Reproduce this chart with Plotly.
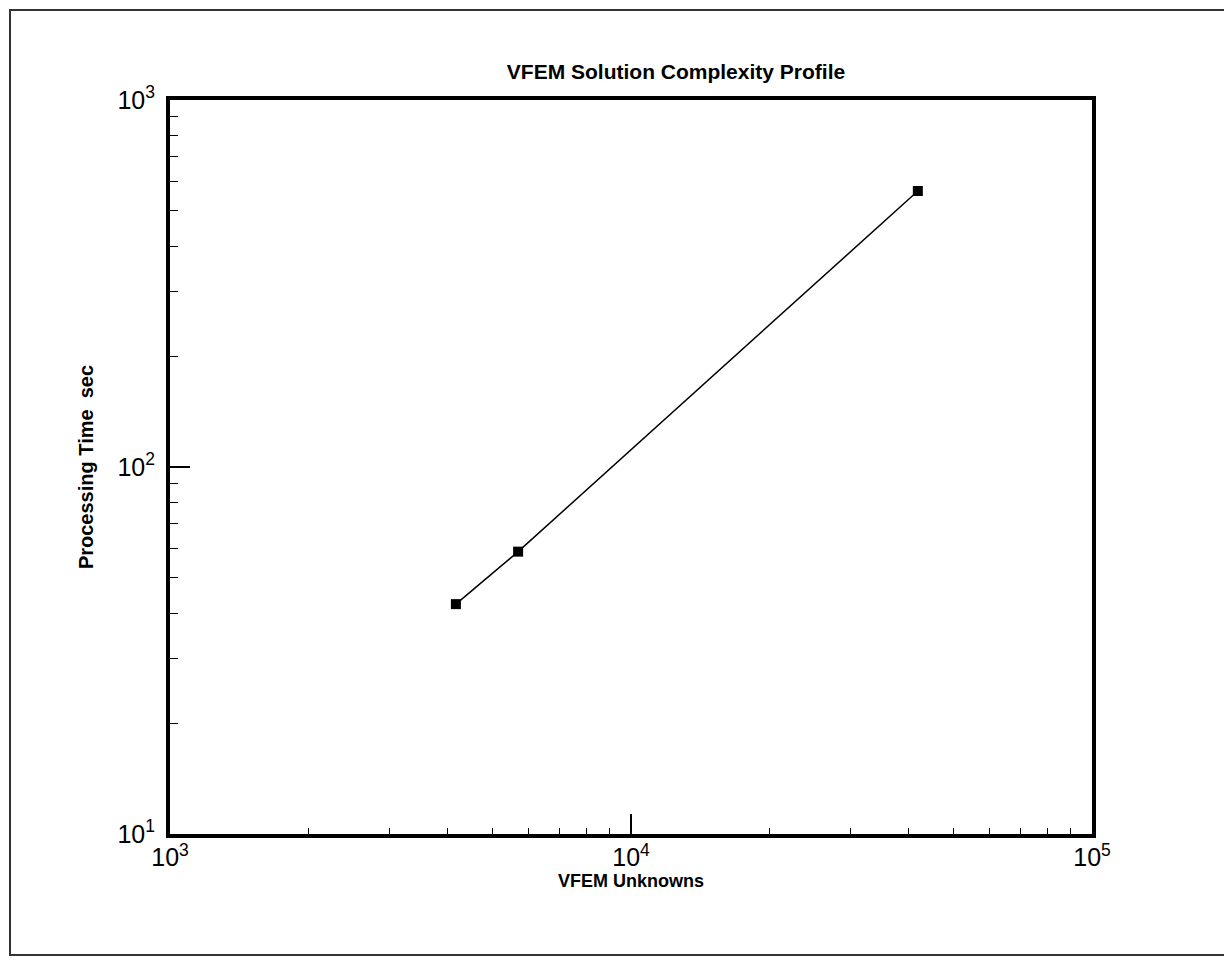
import plotly.graph_objects as go

unknowns = [4170, 5690, 41900]
proc_time = [42.3, 58.8, 565]

title_text = "VFEM Solution Complexity Profile"
x_title = "VFEM Unknowns"
y_title = "Processing Time  sec"

y_tickvals = [10, 100, 1000]
y_ticktext = ["10<sup>1</sup>", "10<sup>2</sup>", "10<sup>3</sup>"]
x_tickvals = [1000, 10000, 100000]
x_ticktext = ["10<sup>3</sup>", "10<sup>4</sup>", "10<sup>5</sup>"]
y_minor = [20, 30, 40, 50, 60, 70, 80, 90, 200, 300, 400, 500, 600, 700, 800, 900]
x_minor = [2000, 3000, 4000, 5000, 6000, 7000, 8000, 9000,
           20000, 30000, 40000, 50000, 60000, 70000, 80000, 90000]

FONT = "Liberation Sans, Arial"

# page offset of the figure (browser body margin)
OFF = 8
PL, PR, PT, PB = 170, 1092, 100, 834  # plot area in page pixels

fig = go.Figure()
fig.add_trace(go.Scatter(
    x=unknowns, y=proc_time, mode="lines+markers",
    line=dict(color="black", width=1.5),
    marker=dict(symbol="square", size=10, color="black"),
    showlegend=False,
))

axis_common = dict(
    type="log", showgrid=False, zeroline=False,
    showline=True, linecolor="black", linewidth=4, mirror=True,
    ticks="inside", ticklen=20, tickwidth=2, tickcolor="black",
    tickfont=dict(family=FONT, size=25, color="black"),
)

fig.update_xaxes(range=[3, 5], tickmode="array", tickvals=x_tickvals, ticktext=x_ticktext,
                 minor=dict(ticks="inside", ticklen=6, tickwidth=1, tickcolor="black",
                            tickmode="array", tickvals=x_minor, showgrid=False),
                 title=dict(text="<b>" + x_title + "</b>", standoff=0,
                            font=dict(family=FONT, size=18, color="black")),
                 ticklabelstandoff=-2, **axis_common)
fig.update_yaxes(range=[1, 3], tickmode="array", tickvals=y_tickvals, ticktext=y_ticktext,
                 minor=dict(ticks="inside", ticklen=8, tickwidth=1, tickcolor="black",
                            tickmode="array", tickvals=y_minor, showgrid=False),
                 title=dict(text="<b>" + y_title + "</b>", standoff=19,
                            font=dict(family=FONT, size=20, color="black")),
                 ticklabelstandoff=6, **axis_common)

W, H = 1232 - OFF, 960 - OFF
fig.update_layout(
    width=W, height=H,
    margin=dict(l=PL - OFF, r=1232 - PR, t=PT - OFF, b=960 - PB, autoexpand=False),
    paper_bgcolor="white", plot_bgcolor="white",
    title=dict(text="<b>" + title_text + "</b>", x=(676 - OFF) / W, xanchor="center",
               y=1 - (72 - OFF) / H, yanchor="middle",
               font=dict(family=FONT, size=21, color="black")),
    shapes=[dict(type="rect", xref="paper", yref="paper",
                 x0=(10 - PL) / (PR - PL), x1=(1228 - PL) / (PR - PL),
                 y0=(PB - 955) / (PB - PT), y1=(PB - 10) / (PB - PT),
                 line=dict(color="#333333", width=2), layer="below")],
)

fig.write_html("out.html")
